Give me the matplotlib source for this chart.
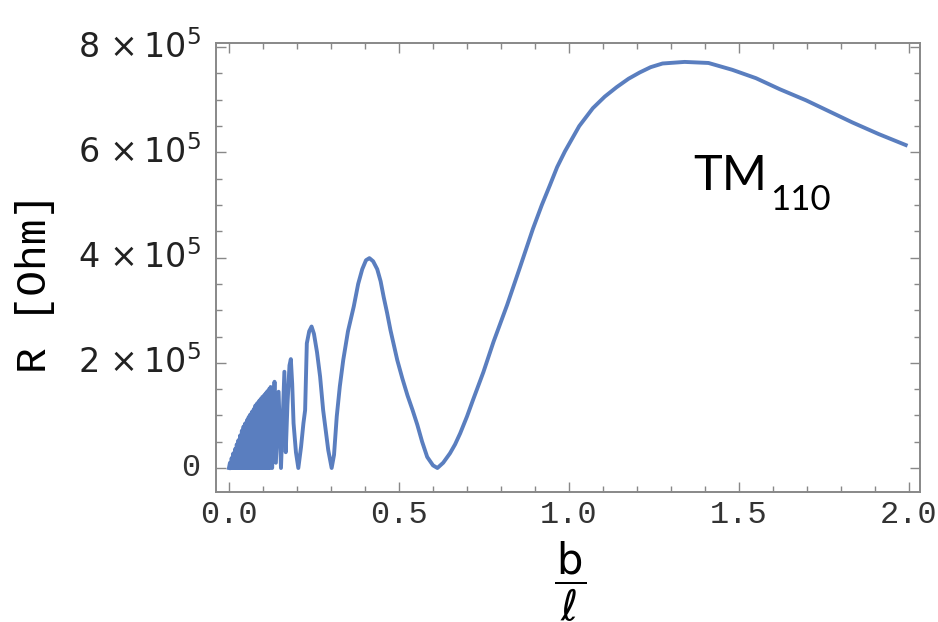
import matplotlib
matplotlib.use('Agg')
import matplotlib.pyplot as plt
from matplotlib.ticker import MultipleLocator

plt.rcParams['mathtext.fontset'] = 'dejavusans'

# b/l values and R in units of 1e5 Ohm
# dense part near zero (peak / trough zigzag)
b_l = [0.0,
       0.003, 0.0055, 0.008, 0.0105, 0.013, 0.0155, 0.018, 0.0205, 0.023, 0.0255,
       0.028, 0.0305, 0.033, 0.0355, 0.038, 0.0405, 0.043, 0.0455, 0.048, 0.0505,
       0.053, 0.0555, 0.058, 0.0605, 0.063, 0.0655, 0.068, 0.0705, 0.073, 0.0755,
       0.078, 0.0805, 0.083, 0.0855, 0.088, 0.0905, 0.093, 0.0955, 0.098, 0.1005,
       0.103, 0.1055, 0.108, 0.1105, 0.113, 0.1155, 0.118, 0.1203, 0.1225, 0.127,
       0.134, 0.138, 0.146, 0.153,
       0.163, 0.167, 0.172, 0.178, 0.182, 0.186, 0.190, 0.197, 0.204,
       0.212, 0.219, 0.224, 0.229, 0.236, 0.243, 0.250, 0.259, 0.268, 0.277,
       0.285, 0.292, 0.302,
       0.309, 0.317, 0.326, 0.336, 0.350, 0.367, 0.380, 0.392, 0.403, 0.413,
       0.424, 0.436, 0.446, 0.455, 0.465, 0.475, 0.495, 0.510, 0.525, 0.540,
       0.554, 0.568, 0.583, 0.600, 0.613,
       0.630, 0.650, 0.665, 0.680, 0.700, 0.718, 0.748, 0.778, 0.798, 0.818,
       0.856, 0.894, 0.920, 0.944, 0.965, 0.988, 1.03, 1.07, 1.105, 1.14,
       1.175, 1.208, 1.24, 1.275, 1.34, 1.41, 1.48, 1.55,
       1.62, 1.697, 1.765, 1.833, 1.91, 1.99]
R_e5 = [0.0,
        0.10, 0.0, 0.19, 0.0, 0.28, 0.0, 0.36, 0.0, 0.45, 0.0,
        0.53, 0.0, 0.62, 0.0, 0.71, 0.0, 0.79, 0.0, 0.85, 0.0,
        0.91, 0.0, 0.97, 0.0, 1.02, 0.0, 1.07, 0.0, 1.12, 0.0,
        1.19, 0.0, 1.23, 0.0, 1.27, 0.0, 1.31, 0.0, 1.35, 0.0,
        1.38, 0.0, 1.42, 0.0, 1.46, 0.0, 1.50, 0.0, 1.54, 0.0,
        1.64, 0.1, 1.45, 0.0,
        1.83, 0.3, 1.2, 1.95, 2.07, 1.6, 0.85, 0.3, 0.0,
        0.4, 0.85, 1.1, 2.37, 2.6, 2.69, 2.55, 2.2, 1.74, 1.1,
        0.7, 0.34, 0.0,
        0.25, 0.98, 1.55, 2.05, 2.6, 3.07, 3.5, 3.78, 3.95, 3.99,
        3.93, 3.78, 3.55, 3.25, 2.95, 2.62, 2.05, 1.70, 1.38, 1.10,
        0.82, 0.50, 0.21, 0.05, 0.0,
        0.1, 0.28, 0.45, 0.66, 0.98, 1.30, 1.82, 2.40, 2.75, 3.10,
        3.82, 4.55, 5.0, 5.38, 5.72, 6.02, 6.50, 6.84, 7.06, 7.24,
        7.40, 7.52, 7.62, 7.69, 7.72, 7.70, 7.57, 7.41,
        7.2, 6.99, 6.78, 6.57, 6.35, 6.14]

x_ticks = [0.0, 0.5, 1.0, 1.5, 2.0]
x_labels = ['0.0', '0.5', '1.0', '1.5', '2.0']
y_ticks = [0, 2e5, 4e5, 6e5, 8e5]
y_labels = ['0', r'2 ×$\,10^{5}$', r'4 ×$\,10^{5}$', r'6 ×$\,10^{5}$', r'8 ×$\,10^{5}$']

R = [v * 1e5 for v in R_e5]

fig = plt.figure(figsize=(9.38, 6.22), dpi=100)
ax = fig.add_axes([0.2303, 0.209, 0.7505, 0.7219])
ax.plot(b_l, R, color='#5A7EBF', lw=2.8)

ax.set_xlim(-0.038, 2.032)
ax.set_ylim(-0.456e5, 8.08e5)

ax.set_xticks(x_ticks)
ax.set_xticklabels(x_labels)
ax.set_yticks(y_ticks)
ax.set_yticklabels(y_labels)
ax.xaxis.set_minor_locator(MultipleLocator(0.1))
ax.yaxis.set_minor_locator(MultipleLocator(0.5e5))

ax.tick_params(which='both', direction='in', top=True, right=True,
               color='#888888', width=1.0)
ax.tick_params(which='major', length=7)
ax.tick_params(which='minor', length=4)
ax.tick_params(axis='x', labelsize=23, pad=6, labelcolor='#333333')
ax.tick_params(axis='y', labelsize=24, pad=11, labelcolor='#222222')
for lab in ax.get_xticklabels():
    lab.set_family('Liberation Mono')
ylabs = ax.get_yticklabels()
for lab in ylabs:
    lab.set_family('DejaVu Sans')
    lab.set_verticalalignment('center')
ylabs[0].set_family('Liberation Mono')
ylabs[0].set_fontsize(23)
ylabs[0].set_color('#333333')

for s in ax.spines.values():
    s.set_color('#888888')
    s.set_linewidth(1.4)

ax.set_ylabel('R [Ohm]', fontfamily='Liberation Mono', fontsize=31)
ax.yaxis.set_label_coords(-0.229, 0.465)
fig.text(570 / 938, 1 - 581 / 622, r'$\dfrac{\mathsf{b}}{\,\ell\,}$', fontsize=30,
         math_fontfamily='dejavusans', ha='center', va='center')

ax.text(1.365, 5.29e5, 'TM', family='Lato', fontsize=35, va='baseline')
ax.text(1.591, 4.90e5, '110', family='Lato', fontsize=25, va='baseline')

fig.savefig('out.png', dpi=100)
